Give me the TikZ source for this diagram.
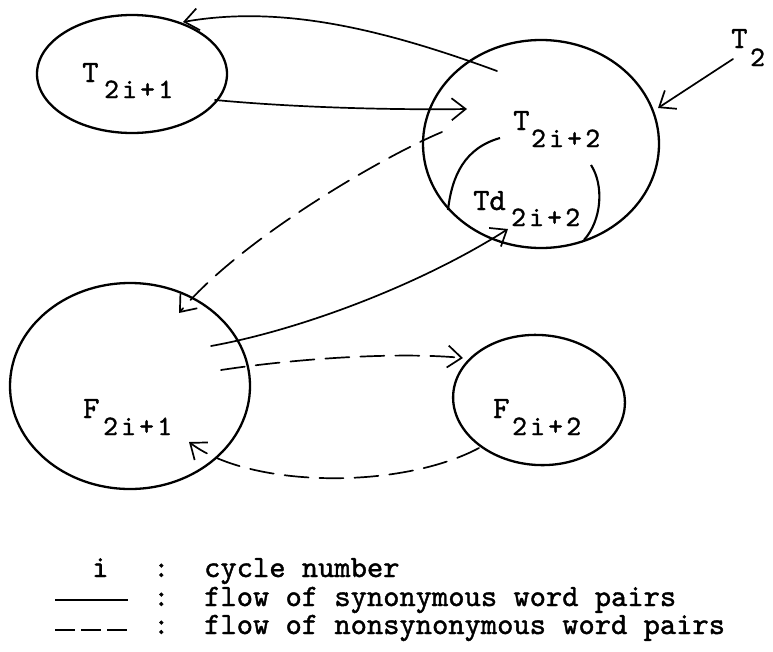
\documentclass[tikz,border=0pt]{standalone}
\usepackage{fontspec}
\usetikzlibrary{arrows.meta,shapes.geometric}
\newfontfamily\tw{lmmono10-regular.otf}[FakeBold=1.3]
\newfontfamily\twsp{lmmono10-regular.otf}[FakeBold=1.3, LetterSpace=12]
\begin{document}
\begin{tikzpicture}[x=1pt,y=-1pt,
  blob/.style 2 args={draw, ellipse, line width=2.3pt, inner sep=0pt, minimum width=#1, minimum height=#2},
  txt/.style={anchor=base west, inner sep=0pt, font=\fontsize{31}{36}\selectfont\tw},
  leg/.style={anchor=base west, inner sep=0pt, font=\fontsize{31}{34}\selectfont\tw},
  sub/.style={anchor=base west, inner sep=0pt, font=\fontsize{28}{32}\selectfont\twsp},
  flow/.style={line width=1.7pt, line cap=round, line join=round, -{Straight Barb[length=14pt,width=22pt,line width=1.7pt]}},
  nflow/.style={flow, dash pattern=on 24pt off 11pt},
  legline/.style={line width=1.7pt}
]
\useasboundingbox (0,0) rectangle (773,651);

% sets
\node[blob={190pt}{118pt}] (T1) at (132,74) {};
\node[blob={236pt}{208pt}] (T2) at (541,144) {};
\node[blob={240pt}{206pt}] (F1) at (130,386) {};
\node[blob={172pt}{130pt}, rotate=-4] (F2) at (539,400) {};

% labels
\node[txt] (t1a) at (82,82) {T};
\node[sub] (t1b) at (104,98) {2i+1};
\node[txt] (t2a) at (513,130) {T};
\node[sub] (t2b) at (531,147) {2i+2};
\node[txt] (tda) at (473,210) {Td};
\node[sub] (tdb) at (511,226) {2i+2};
\node[txt] (f1a) at (83,418) {F};
\node[sub] (f1b) at (103,435) {2i+1};
\node[txt] (f2a) at (493,418) {F};
\node[sub] (f2b) at (512,435) {2i+2};
\node[txt] (t0a) at (731,48) {T};
\node[sub] (t0b) at (750,66) {2};

% Td subset arcs
\coordinate (la) at (500,138);
\coordinate (lb) at (448,210);
\coordinate (ra) at (591,165);
\coordinate (rb) at (584,240);
\draw[line width=2.1pt] (la) .. controls (465,148) and (452,175) .. (lb);
\draw[line width=2.1pt] (ra) .. controls (604,185) and (602,220) .. (rb);

% connector end points
\coordinate (a1) at (497,71);
\coordinate (a2) at (183,22);
\coordinate (b1) at (215,100);
\coordinate (b2) at (467,109);
\coordinate (c1) at (733,59);
\coordinate (c2) at (658,108);
\coordinate (d1) at (442,132);
\coordinate (d2) at (179,313);
\coordinate (e1) at (211,346);
\coordinate (e2) at (508,229);
\coordinate (g1) at (221,370);
\coordinate (g2) at (463,358);
\coordinate (h1) at (479,448);
\coordinate (h2) at (189,442);

\draw[flow] (a1) .. controls (380,28) and (280,5) .. (a2);
\draw[flow] (b1) .. controls (300,108) and (400,110) .. (b2);
\draw[flow] (c1) -- (c2);
\draw[nflow] (d1) .. controls (380,158) and (240,240) .. (d2);
\draw[flow] (e1) .. controls (300,330) and (420,285) .. (e2);
\draw[nflow] (g1) .. controls (300,358) and (400,352) .. (g2);
\draw[nflow] (h1) .. controls (400,490) and (250,488) .. (h2);

% legend
\node[leg] (li) at (92,577) {i};
\node[leg] (k1) at (153,577) {:};
\node[leg] (k2) at (153,606) {:};
\node[leg] (k3) at (153,634) {:};
\node[leg] (l1) at (204,577) {cycle number};
\node[leg] (l2) at (204,606) {flow of synonymous word pairs};
\node[leg] (l3) at (204,634) {flow of nonsynonymous word pairs};
\coordinate (s1) at (55,600);
\coordinate (s2) at (128,600);
\coordinate (n1) at (55,630);
\coordinate (n2) at (128,630);
\draw[legline] (s1) -- (s2);
\draw[legline, dash pattern=on 20pt off 6pt] (n1) -- (n2);
\end{tikzpicture}
\end{document}
